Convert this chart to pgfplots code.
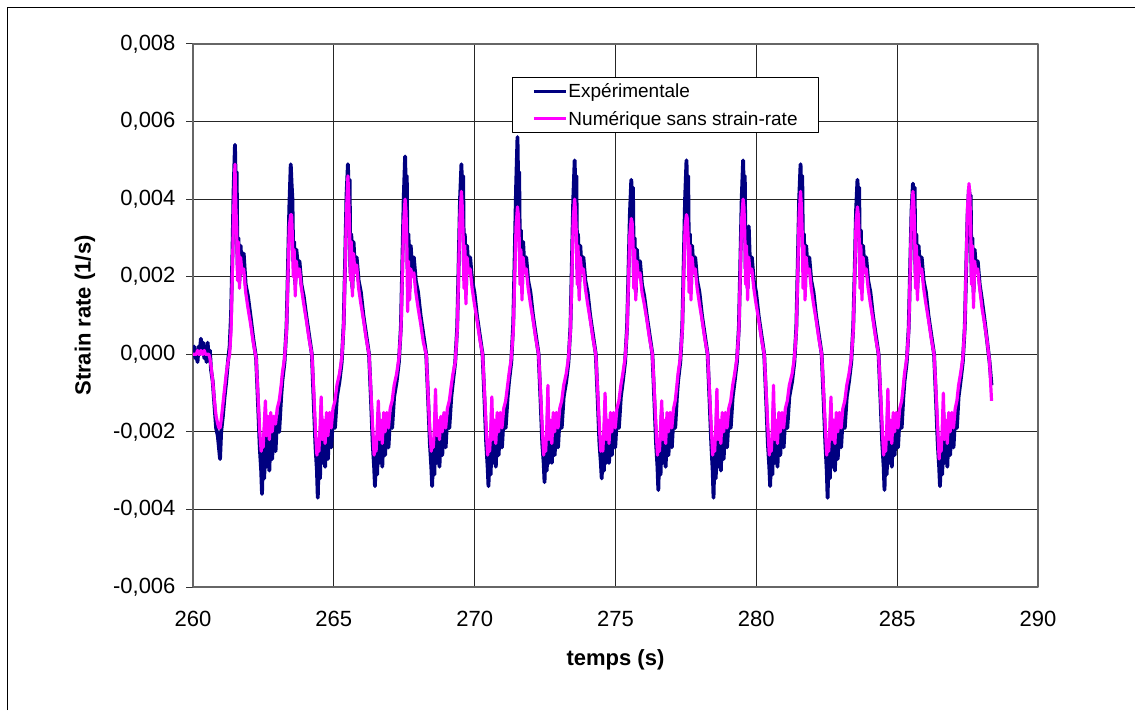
\documentclass[border=0pt]{standalone}
\usepackage{fontspec}
\setmainfont{Liberation Sans}
\usepackage{pgfplots}
\usepackage{pgfplotstable}
\pgfplotsset{compat=1.18}
\definecolor{navyx}{RGB}{0,0,128}
\definecolor{magx}{RGB}{255,0,255}
\pgfplotstableread{
t e n
260.00 0.0000 0.0000
260.04 0.0002 0.0000
260.08 -0.0001 0.0000
260.12 0.0001 0.0000
260.16 -0.0002 0.0001
260.20 0.0002 0.0000
260.24 0.0000 0.0000
260.28 0.0004 0.0001
260.32 0.0001 0.0000
260.36 0.0003 0.0000
260.40 -0.0001 0.0001
260.44 0.0002 0.0000
260.48 -0.0002 0.0000
260.52 0.0003 0.0000
260.56 -0.0001 0.0000
260.60 0.0001 -0.0001
260.64 -0.0004 -0.0003
260.70 -0.0007 -0.0007
260.76 -0.0013 -0.0012
260.82 -0.0019 -0.0016
260.88 -0.0021 -0.0018
260.92 -0.0024 -0.0019
260.96 -0.0027 -0.0019
261.00 -0.0020 -0.0017
261.06 -0.0016 -0.0013
261.12 -0.0011 -0.0009
261.18 -0.0007 -0.0005
261.24 -0.0002 -0.0002
261.30 0.0002 0.0000
261.35 0.0010 0.0006
261.40 0.0026 0.0022
261.44 0.0042 0.0036
261.49 0.0054 0.0049
261.52 0.0043 0.0038
261.55 0.0047 0.0033
261.58 0.0023 0.0019
261.61 0.0030 0.0029
261.65 0.0019 0.0017
261.69 0.0028 0.0025
261.74 0.0021 0.0021
261.80 0.0026 0.0022
261.87 0.0018 0.0016
261.95 0.0015 0.0012
262.04 0.0010 0.0008
262.14 0.0004 0.0003
262.24 -0.0001 -0.0001
262.31 -0.0013 -0.0011
262.37 -0.0024 -0.0020
262.42 -0.0030 -0.0025
262.45 -0.0036 -0.0022
262.49 -0.0025 -0.0024
262.53 -0.0032 -0.0018
262.57 -0.0016 -0.0012
262.61 -0.0029 -0.0021
262.66 -0.0021 -0.0016
262.71 -0.0030 -0.0022
262.76 -0.0019 -0.0015
262.81 -0.0027 -0.0020
262.87 -0.0018 -0.0016
262.93 -0.0025 -0.0018
262.99 -0.0016 -0.0014
263.06 -0.0020 -0.0012
263.13 -0.0011 -0.0008
263.17 -0.0007 -0.0005
263.25 -0.0002 -0.0001
263.32 0.0007 0.0006
263.37 0.0022 0.0020
263.42 0.0038 0.0033
263.47 0.0049 0.0036
263.50 0.0044 0.0036
263.53 0.0040 0.0030
263.56 0.0024 0.0020
263.59 0.0029 0.0027
263.63 0.0018 0.0015
263.67 0.0027 0.0024
263.72 0.0023 0.0020
263.78 0.0024 0.0022
263.85 0.0018 0.0017
263.93 0.0015 0.0013
264.02 0.0010 0.0009
264.12 0.0005 0.0004
264.22 0.0000 0.0000
264.29 -0.0013 -0.0010
264.35 -0.0024 -0.0020
264.40 -0.0030 -0.0026
264.43 -0.0037 -0.0023
264.47 -0.0025 -0.0025
264.51 -0.0032 -0.0019
264.55 -0.0016 -0.0011
264.59 -0.0028 -0.0022
264.64 -0.0020 -0.0017
264.69 -0.0029 -0.0023
264.74 -0.0019 -0.0015
264.79 -0.0027 -0.0021
264.85 -0.0017 -0.0015
264.91 -0.0024 -0.0019
264.97 -0.0016 -0.0014
265.04 -0.0019 -0.0012
265.11 -0.0011 -0.0008
265.20 -0.0007 -0.0005
265.28 -0.0002 -0.0001
265.35 0.0008 0.0007
265.40 0.0024 0.0022
265.45 0.0041 0.0037
265.50 0.0049 0.0046
265.53 0.0042 0.0040
265.56 0.0045 0.0032
265.59 0.0021 0.0019
265.62 0.0031 0.0029
265.66 0.0017 0.0015
265.70 0.0029 0.0026
265.75 0.0022 0.0021
265.81 0.0025 0.0023
265.88 0.0019 0.0017
265.96 0.0016 0.0013
266.05 0.0010 0.0009
266.15 0.0005 0.0004
266.25 0.0000 0.0000
266.32 -0.0012 -0.0010
266.38 -0.0023 -0.0019
266.43 -0.0029 -0.0026
266.46 -0.0034 -0.0022
266.50 -0.0024 -0.0025
266.54 -0.0031 -0.0019
266.58 -0.0015 -0.0012
266.62 -0.0028 -0.0022
266.67 -0.0020 -0.0017
266.72 -0.0029 -0.0023
266.77 -0.0019 -0.0015
266.82 -0.0026 -0.0020
266.88 -0.0017 -0.0015
266.94 -0.0024 -0.0019
267.00 -0.0016 -0.0014
267.07 -0.0019 -0.0012
267.14 -0.0011 -0.0008
267.23 -0.0007 -0.0005
267.31 -0.0002 -0.0001
267.38 0.0007 0.0006
267.43 0.0023 0.0020
267.48 0.0040 0.0034
267.53 0.0051 0.0040
267.56 0.0041 0.0037
267.59 0.0046 0.0030
267.62 0.0022 0.0011
267.65 0.0031 0.0024
267.69 0.0017 0.0014
267.73 0.0028 0.0022
267.78 0.0022 0.0020
267.84 0.0025 0.0021
267.91 0.0019 0.0016
267.99 0.0016 0.0012
268.08 0.0010 0.0008
268.18 0.0005 0.0003
268.28 0.0000 0.0000
268.35 -0.0012 -0.0011
268.41 -0.0023 -0.0020
268.46 -0.0029 -0.0025
268.49 -0.0034 -0.0022
268.53 -0.0024 -0.0024
268.57 -0.0031 -0.0019
268.61 -0.0015 -0.0009
268.65 -0.0028 -0.0021
268.70 -0.0020 -0.0017
268.75 -0.0029 -0.0022
268.80 -0.0019 -0.0016
268.85 -0.0026 -0.0020
268.91 -0.0017 -0.0015
268.97 -0.0024 -0.0019
269.03 -0.0016 -0.0014
269.10 -0.0019 -0.0012
269.17 -0.0011 -0.0008
269.23 -0.0007 -0.0005
269.31 -0.0002 -0.0002
269.38 0.0007 0.0006
269.43 0.0023 0.0021
269.48 0.0040 0.0036
269.53 0.0049 0.0042
269.56 0.0041 0.0038
269.59 0.0046 0.0031
269.62 0.0022 0.0017
269.65 0.0031 0.0028
269.69 0.0016 0.0013
269.73 0.0028 0.0025
269.78 0.0022 0.0021
269.84 0.0025 0.0022
269.91 0.0019 0.0017
269.99 0.0016 0.0013
270.08 0.0010 0.0009
270.18 0.0005 0.0004
270.28 0.0000 0.0000
270.35 -0.0012 -0.0010
270.41 -0.0023 -0.0019
270.46 -0.0029 -0.0026
270.49 -0.0034 -0.0023
270.53 -0.0024 -0.0025
270.57 -0.0031 -0.0020
270.61 -0.0015 -0.0011
270.65 -0.0028 -0.0022
270.70 -0.0020 -0.0017
270.75 -0.0029 -0.0023
270.80 -0.0019 -0.0015
270.85 -0.0026 -0.0020
270.91 -0.0017 -0.0015
270.97 -0.0024 -0.0019
271.03 -0.0016 -0.0014
271.10 -0.0019 -0.0012
271.17 -0.0011 -0.0008
271.22 -0.0007 -0.0005
271.30 -0.0002 -0.0001
271.37 0.0008 0.0006
271.42 0.0025 0.0020
271.47 0.0043 0.0033
271.52 0.0056 0.0038
271.55 0.0042 0.0036
271.58 0.0047 0.0030
271.61 0.0023 0.0018
271.64 0.0032 0.0027
271.68 0.0017 0.0014
271.72 0.0029 0.0025
271.77 0.0022 0.0021
271.83 0.0025 0.0022
271.90 0.0019 0.0017
271.98 0.0016 0.0013
272.07 0.0010 0.0009
272.17 0.0005 0.0004
272.27 0.0000 0.0000
272.34 -0.0012 -0.0010
272.40 -0.0023 -0.0019
272.45 -0.0028 -0.0026
272.48 -0.0033 -0.0022
272.52 -0.0024 -0.0025
272.56 -0.0030 -0.0019
272.60 -0.0015 -0.0008
272.64 -0.0028 -0.0022
272.69 -0.0020 -0.0017
272.74 -0.0028 -0.0023
272.79 -0.0019 -0.0015
272.84 -0.0026 -0.0020
272.90 -0.0017 -0.0015
272.96 -0.0024 -0.0019
273.02 -0.0016 -0.0014
273.09 -0.0019 -0.0012
273.16 -0.0011 -0.0008
273.25 -0.0007 -0.0005
273.33 -0.0002 -0.0001
273.40 0.0007 0.0006
273.45 0.0023 0.0020
273.50 0.0040 0.0035
273.55 0.0050 0.0040
273.58 0.0041 0.0037
273.61 0.0046 0.0031
273.64 0.0022 0.0018
273.67 0.0031 0.0028
273.71 0.0017 0.0014
273.75 0.0028 0.0025
273.80 0.0022 0.0021
273.86 0.0025 0.0022
273.93 0.0019 0.0017
274.01 0.0016 0.0013
274.10 0.0010 0.0009
274.20 0.0005 0.0004
274.30 0.0000 0.0000
274.37 -0.0012 -0.0010
274.43 -0.0023 -0.0019
274.48 -0.0028 -0.0025
274.51 -0.0032 -0.0022
274.55 -0.0024 -0.0025
274.59 -0.0030 -0.0019
274.63 -0.0015 -0.0010
274.67 -0.0028 -0.0022
274.72 -0.0020 -0.0017
274.77 -0.0028 -0.0023
274.82 -0.0019 -0.0015
274.87 -0.0026 -0.0020
274.93 -0.0017 -0.0015
274.99 -0.0024 -0.0019
275.05 -0.0016 -0.0014
275.12 -0.0019 -0.0012
275.19 -0.0011 -0.0008
275.26 -0.0007 -0.0005
275.34 -0.0002 -0.0001
275.41 0.0007 0.0006
275.46 0.0021 0.0019
275.51 0.0036 0.0031
275.56 0.0045 0.0035
275.59 0.0040 0.0034
275.62 0.0043 0.0029
275.65 0.0021 0.0017
275.68 0.0030 0.0027
275.72 0.0016 0.0014
275.76 0.0027 0.0024
275.81 0.0021 0.0020
275.87 0.0024 0.0021
275.94 0.0018 0.0016
276.02 0.0015 0.0013
276.11 0.0010 0.0009
276.21 0.0005 0.0004
276.31 0.0000 0.0000
276.38 -0.0012 -0.0010
276.44 -0.0023 -0.0019
276.49 -0.0029 -0.0026
276.52 -0.0035 -0.0023
276.56 -0.0024 -0.0025
276.60 -0.0031 -0.0019
276.64 -0.0015 -0.0012
276.68 -0.0028 -0.0022
276.73 -0.0020 -0.0017
276.78 -0.0029 -0.0023
276.83 -0.0019 -0.0015
276.88 -0.0026 -0.0020
276.94 -0.0017 -0.0015
277.00 -0.0024 -0.0019
277.06 -0.0016 -0.0014
277.12 -0.0019 -0.0012
277.18 -0.0011 -0.0008
277.22 -0.0007 -0.0005
277.30 -0.0002 -0.0001
277.37 0.0007 0.0006
277.42 0.0023 0.0020
277.47 0.0040 0.0033
277.52 0.0050 0.0036
277.55 0.0041 0.0035
277.58 0.0046 0.0030
277.61 0.0022 0.0016
277.64 0.0031 0.0028
277.68 0.0017 0.0014
277.72 0.0028 0.0025
277.77 0.0022 0.0021
277.83 0.0025 0.0022
277.90 0.0019 0.0017
277.98 0.0016 0.0013
278.07 0.0010 0.0009
278.17 0.0005 0.0004
278.27 0.0000 0.0000
278.34 -0.0012 -0.0010
278.40 -0.0023 -0.0019
278.45 -0.0030 -0.0026
278.48 -0.0037 -0.0023
278.52 -0.0025 -0.0025
278.56 -0.0032 -0.0019
278.60 -0.0015 -0.0009
278.64 -0.0029 -0.0022
278.69 -0.0020 -0.0017
278.74 -0.0030 -0.0023
278.79 -0.0019 -0.0015
278.84 -0.0027 -0.0020
278.90 -0.0017 -0.0015
278.96 -0.0024 -0.0019
279.02 -0.0016 -0.0014
279.09 -0.0019 -0.0012
279.16 -0.0011 -0.0008
279.23 -0.0007 -0.0005
279.31 -0.0002 -0.0001
279.38 0.0007 0.0006
279.43 0.0023 0.0021
279.48 0.0040 0.0035
279.53 0.0050 0.0040
279.56 0.0041 0.0038
279.59 0.0046 0.0031
279.62 0.0022 0.0018
279.65 0.0031 0.0028
279.69 0.0017 0.0014
279.73 0.0033 0.0025
279.78 0.0022 0.0021
279.84 0.0025 0.0022
279.91 0.0019 0.0017
279.99 0.0016 0.0013
280.08 0.0010 0.0009
280.18 0.0005 0.0004
280.28 0.0000 0.0000
280.35 -0.0012 -0.0010
280.41 -0.0023 -0.0019
280.46 -0.0029 -0.0026
280.49 -0.0034 -0.0022
280.53 -0.0024 -0.0025
280.57 -0.0031 -0.0019
280.61 -0.0014 -0.0008
280.65 -0.0028 -0.0022
280.70 -0.0020 -0.0017
280.75 -0.0029 -0.0023
280.80 -0.0019 -0.0015
280.85 -0.0026 -0.0020
280.91 -0.0017 -0.0015
280.97 -0.0024 -0.0019
281.03 -0.0016 -0.0014
281.10 -0.0019 -0.0012
281.17 -0.0011 -0.0008
281.27 -0.0007 -0.0005
281.35 -0.0002 -0.0001
281.42 0.0007 0.0006
281.47 0.0023 0.0021
281.52 0.0040 0.0036
281.57 0.0049 0.0042
281.60 0.0041 0.0038
281.63 0.0046 0.0031
281.66 0.0022 0.0017
281.69 0.0031 0.0028
281.73 0.0017 0.0014
281.77 0.0028 0.0025
281.82 0.0022 0.0021
281.88 0.0025 0.0022
281.95 0.0019 0.0017
282.03 0.0016 0.0013
282.12 0.0010 0.0009
282.22 0.0005 0.0004
282.32 0.0000 0.0000
282.39 -0.0012 -0.0010
282.45 -0.0023 -0.0019
282.50 -0.0030 -0.0026
282.53 -0.0037 -0.0023
282.57 -0.0025 -0.0025
282.61 -0.0032 -0.0019
282.65 -0.0015 -0.0011
282.69 -0.0029 -0.0022
282.74 -0.0020 -0.0017
282.79 -0.0030 -0.0023
282.84 -0.0019 -0.0015
282.89 -0.0027 -0.0020
282.95 -0.0017 -0.0015
283.01 -0.0024 -0.0019
283.07 -0.0016 -0.0014
283.14 -0.0019 -0.0012
283.21 -0.0011 -0.0008
283.29 -0.0007 -0.0005
283.37 -0.0002 -0.0001
283.44 0.0007 0.0006
283.49 0.0021 0.0020
283.54 0.0037 0.0034
283.59 0.0045 0.0038
283.62 0.0040 0.0036
283.65 0.0043 0.0030
283.68 0.0021 0.0017
283.71 0.0032 0.0028
283.75 0.0017 0.0014
283.79 0.0028 0.0025
283.84 0.0022 0.0021
283.90 0.0025 0.0022
283.97 0.0019 0.0017
284.05 0.0016 0.0013
284.14 0.0010 0.0009
284.24 0.0005 0.0004
284.34 0.0000 0.0000
284.41 -0.0012 -0.0010
284.47 -0.0023 -0.0019
284.52 -0.0029 -0.0026
284.55 -0.0035 -0.0023
284.59 -0.0024 -0.0025
284.63 -0.0031 -0.0019
284.67 -0.0015 -0.0009
284.71 -0.0028 -0.0022
284.76 -0.0020 -0.0017
284.81 -0.0029 -0.0023
284.86 -0.0019 -0.0015
284.91 -0.0026 -0.0020
284.97 -0.0017 -0.0015
285.03 -0.0024 -0.0019
285.09 -0.0016 -0.0014
285.16 -0.0019 -0.0012
285.22 -0.0011 -0.0008
285.26 -0.0007 -0.0005
285.34 -0.0002 -0.0001
285.41 0.0007 0.0006
285.46 0.0022 0.0021
285.51 0.0037 0.0036
285.56 0.0044 0.0042
285.59 0.0041 0.0039
285.62 0.0043 0.0032
285.65 0.0021 0.0017
285.68 0.0031 0.0028
285.72 0.0017 0.0014
285.76 0.0028 0.0025
285.81 0.0022 0.0021
285.87 0.0025 0.0022
285.94 0.0019 0.0017
286.02 0.0016 0.0013
286.11 0.0010 0.0009
286.21 0.0005 0.0004
286.31 0.0000 0.0000
286.38 -0.0012 -0.0010
286.44 -0.0023 -0.0019
286.49 -0.0029 -0.0027
286.52 -0.0034 -0.0023
286.56 -0.0024 -0.0025
286.60 -0.0031 -0.0019
286.64 -0.0015 -0.0010
286.68 -0.0028 -0.0022
286.73 -0.0020 -0.0017
286.78 -0.0029 -0.0023
286.83 -0.0019 -0.0015
286.88 -0.0026 -0.0020
286.94 -0.0017 -0.0015
287.00 -0.0024 -0.0019
287.06 -0.0016 -0.0014
287.12 -0.0019 -0.0012
287.18 -0.0011 -0.0008
287.25 -0.0007 -0.0005
287.33 -0.0002 -0.0001
287.40 0.0007 0.0007
287.45 0.0022 0.0023
287.50 0.0036 0.0038
287.55 0.0043 0.0044
287.58 0.0040 0.0041
287.61 0.0041 0.0033
287.64 0.0020 0.0018
287.67 0.0030 0.0028
287.71 0.0016 0.0012
287.75 0.0027 0.0024
287.80 0.0022 0.0021
287.86 0.0024 0.0022
287.93 0.0018 0.0017
288.01 0.0014 0.0012
288.10 0.0009 0.0008
288.20 0.0003 0.0003
288.28 -0.0002 -0.0002
288.35 -0.0008 -0.0012
}\datatab

\begin{document}
\begin{tikzpicture}[x=1pt,y=1pt]
\useasboundingbox (0,0) rectangle (1135,710);
\draw[black, line width=1pt] (7.5,0) -- (7.5,702.5) -- (1135,702.5);
\begin{axis}[
  at={(193pt,123pt)}, anchor=south west,
  width=845pt, height=543pt, scale only axis,
  xmin=260, xmax=290, ymin=-0.006, ymax=0.008,
  xtick={260,265,270,275,280,285,290},
  xticklabels={260,265,270,275,280,285,290},
  ytick={-0.006,-0.004,-0.002,0,0.002,0.004,0.006,0.008},
  yticklabels={{-0,006},{-0,004},{-0,002},{0,000},{0,002},{0,004},{0,006},{0,008}},
  scaled y ticks=false, scaled x ticks=false,
  xtick pos=bottom, ytick pos=left,
  tick align=outside,
  major tick length=7pt,
  xtick style={draw=none},
  ytick style={black!80, line width=1pt},
  grid=major,
  major grid style={black!85, line width=1.1pt},
  axis line style={black!60, line width=1.2pt},
  ticklabel style={font=\fontsize{22}{26}\selectfont},
  yticklabel style={xshift=-7pt},
  xticklabel style={yshift=-14pt},
  xlabel={temps (s)},
  ylabel={Strain rate (1/s)},
  label style={font=\bfseries\fontsize{22}{26}\selectfont},
  xlabel style={at={(axis description cs:0.5,-0.134)}, anchor=center},
  ylabel style={at={(axis description cs:-0.128,0.5)}, anchor=center},
  legend style={at={(axis description cs:0.3775,0.939)}, anchor=north west,
    draw=black, line width=1pt, fill=white,
    font=\fontsize{19}{22}\selectfont,
    inner xsep=20pt, inner ysep=5pt, row sep=10pt,
    nodes={inner sep=1pt}},
  legend cell align=left,
  legend image code/.code={\draw[#1, line width=3pt] (0pt,0pt) -- (32pt,0pt);},
  line join=round,
]
\addplot[navyx, line width=3.8pt, line join=round] table[x=t, y=e] {\datatab};
\addlegendentry{Expérimentale}
\addplot[magx, line width=3.2pt, line join=round] table[x=t, y=n] {\datatab};
\addlegendentry{Numérique sans strain-rate\hspace{12pt}}
\end{axis}
\end{tikzpicture}
\end{document}
